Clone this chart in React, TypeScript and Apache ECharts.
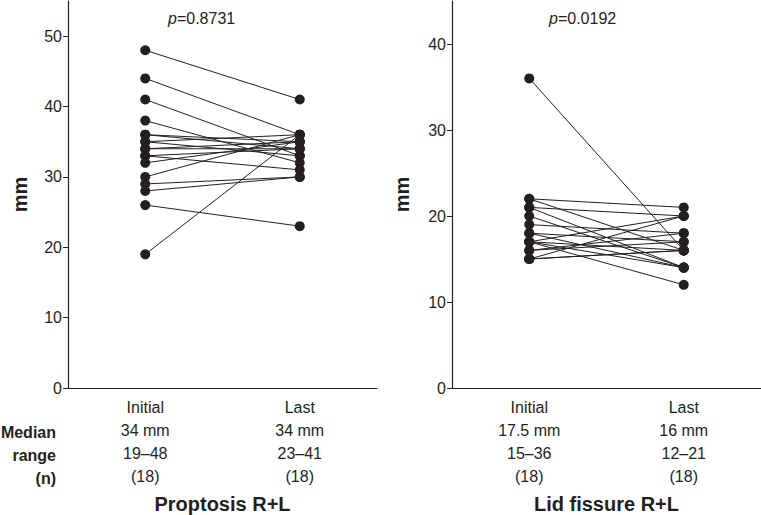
import React, { useEffect, useRef } from "react";
import * as echarts from "echarts";

const categories = ["Initial", "Last"];

const proptosisInitial = [48, 44, 41, 38, 36, 36, 35, 35, 34, 34, 33, 33, 32, 30, 29, 28, 26, 19];
const proptosisLast = [41, 36, 33, 32, 35, 34, 36, 33, 35, 34, 34, 31, 35, 36, 30, 30, 23, 36];

const lidInitial = [36, 22, 22, 21, 21, 20, 19, 18, 18, 17, 17, 17, 17, 16, 16, 15, 15, 15];
const lidLast = [16, 21, 16, 20, 14, 14, 18, 17, 14, 20, 16, 12, 14, 18, 17, 20, 16, 16];

const proptosisInfo = { Initial: ["34 mm", "19–48", "(18)"], Last: ["34 mm", "23–41", "(18)"] };
const lidInfo = { Initial: ["17.5 mm", "15–36", "(18)"], Last: ["16 mm", "12–21", "(18)"] };

const leftPValue = "0.8731";
const rightPValue = "0.0192";
const leftTitle = "Proptosis R+L";
const rightTitle = "Lid fissure R+L";
const rowLabels = ["Median", "range", "(n)"];

const leftTicks = { min: 0, max: 55, interval: 10 };
const rightTicks = { min: 0, max: 45, interval: 10 };

const INK = "#231f20";
const FONT = "Liberation Sans, Arial, sans-serif";

export default function App() {
  const ref = useRef<HTMLDivElement>(null);
  useEffect(() => {
    if (!ref.current) return;
    const chart = echarts.init(ref.current, null, { renderer: "svg" });

    const makeX = (idx: number, info: any) => ({
      type: "category",
      gridIndex: idx,
      data: categories,
      boundaryGap: true,
      axisLine: { lineStyle: { color: INK, width: 1.2 } },
      axisTick: { alignWithLabel: true, length: 5, lineStyle: { color: INK } },
      axisLabel: {
        margin: 8,
        color: INK,
        fontSize: 16,
        fontFamily: FONT,
        lineHeight: 23,
        formatter: (v: string) => [v, ...info[v]].join("\n"),
      },
      splitLine: { show: false },
    });

    const makeY = (idx: number, t: any, gap: number) => ({
      type: "value",
      gridIndex: idx,
      min: t.min,
      max: t.max,
      interval: t.interval,
      name: "mm",
      nameLocation: "middle",
      nameRotate: 90,
      nameGap: gap,
      nameTextStyle: { fontSize: 20, fontWeight: "bold", color: INK, fontFamily: FONT },
      axisLine: { show: true, lineStyle: { color: INK, width: 1.2 } },
      axisTick: { show: true, length: 5, lineStyle: { color: INK } },
      axisLabel: {
        margin: 6,
        color: INK,
        fontSize: 16,
        fontFamily: FONT,
        showMaxLabel: false,
        formatter: (v: number) => (v % 10 === 0 ? String(v) : ""),
      },
      splitLine: { show: false },
    });

    const mkSeries = (init: number[], last: number[], idx: number) =>
      init.map((v, i) => ({
        type: "line",
        xAxisIndex: idx,
        yAxisIndex: idx,
        data: [v, last[i]],
        symbol: "circle",
        symbolSize: 10,
        lineStyle: { color: INK, width: 1 },
        itemStyle: { color: INK },
        silent: true,
      }));

    const textStyle = (extra: any) => ({ fill: INK, fontFamily: FONT, ...extra });

    const graphics: any[] = [];
    rowLabels.forEach((lbl, i) => {
      graphics.push({
        type: "text",
        x: 56,
        y: 432 + i * 23,
        style: textStyle({ text: lbl, fontSize: 16, fontWeight: "bold", align: "right", verticalAlign: "middle" }),
      });
    });
    graphics.push({
      type: "text",
      x: 222.5,
      y: 504,
      style: textStyle({ text: leftTitle, fontSize: 20, fontWeight: "bold", align: "center", verticalAlign: "middle" }),
    });
    graphics.push({
      type: "text",
      x: 606.5,
      y: 504,
      style: textStyle({ text: rightTitle, fontSize: 20, fontWeight: "bold", align: "center", verticalAlign: "middle" }),
    });
    const pText = (x: number, val: string) => ({
      type: "text",
      x,
      y: 18,
      style: {
        text: `{i|p}{n|=${val}}`,
        verticalAlign: "middle",
        rich: {
          i: { fontStyle: "italic", fontSize: 16, fontFamily: FONT, fill: INK, color: INK },
          n: { fontSize: 16, fontFamily: FONT, fill: INK, color: INK },
        },
      },
    });
    graphics.push(pText(168, leftPValue));
    graphics.push(pText(549, rightPValue));

    chart.setOption({
      animation: false,
      backgroundColor: "#ffffff",
      grid: [
        { left: 68, top: 1, width: 309, height: 387 },
        { left: 452, top: 1, width: 309, height: 387 },
      ],
      xAxis: [makeX(0, proptosisInfo), makeX(1, lidInfo)],
      yAxis: [makeY(0, leftTicks, 38), makeY(1, rightTicks, 40)],
      series: [...mkSeries(proptosisInitial, proptosisLast, 0), ...mkSeries(lidInitial, lidLast, 1)],
      graphic: graphics,
    });
    return () => chart.dispose();
  }, []);
  return (
    <div
      ref={ref}
      style={{ position: "fixed", left: 0, top: 0, width: 761, height: 515, background: "#fff" }}
    />
  );
}
